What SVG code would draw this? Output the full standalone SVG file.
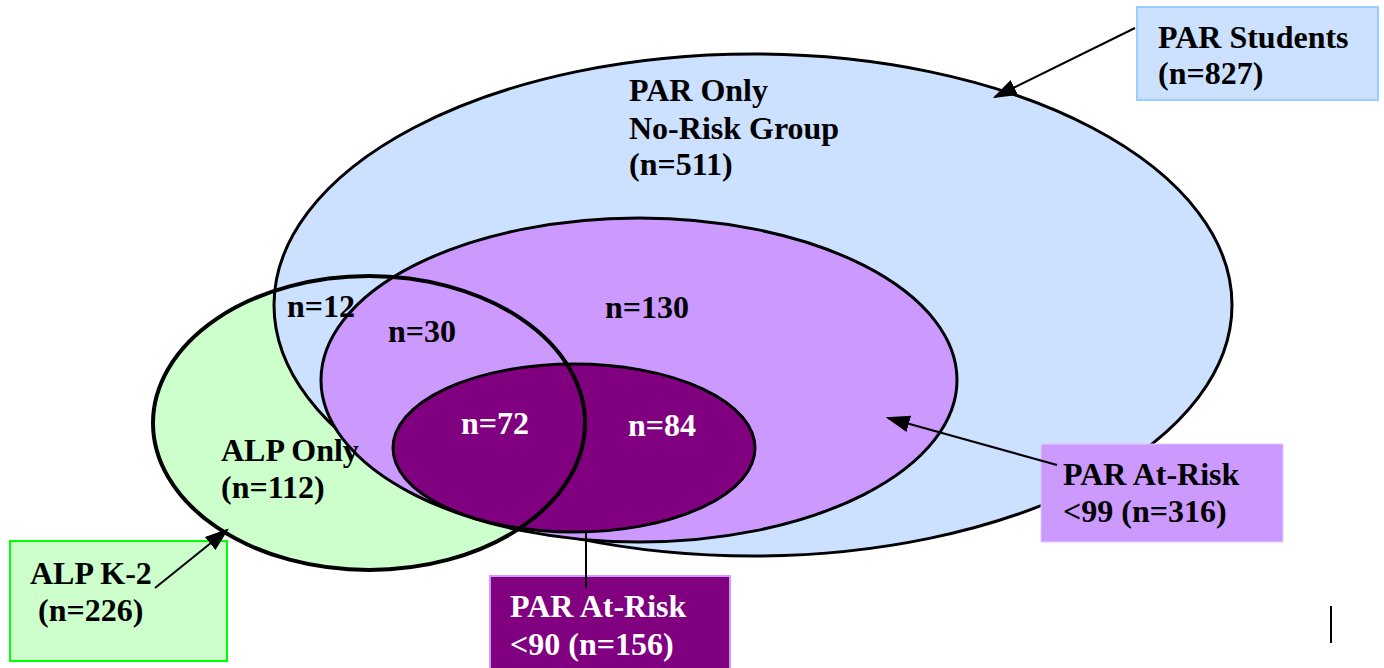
<svg xmlns="http://www.w3.org/2000/svg" width="1384" height="668" viewBox="0 0 1384 668">
<style>
text{font-family:"Liberation Serif","Times New Roman",serif;font-weight:bold;font-size:32px;fill:#000}
.w{fill:#fff}
.ell{stroke:#000;stroke-width:3}
.ln{stroke:#000;stroke-width:2;fill:none}
</style>
<defs>
<marker id="ah" viewBox="0 0 10 10" refX="9" refY="5" markerWidth="10" markerHeight="10" markerUnits="userSpaceOnUse" orient="auto">
<path d="M0,0 L10,5 L0,10 Z" fill="#000"/>
</marker>
<marker id="ah2" viewBox="0 0 10 10" refX="9" refY="5" markerWidth="24" markerHeight="24" markerUnits="userSpaceOnUse" orient="auto">
<path d="M0,1.5 L10,5 L0,8.5 Z" fill="#000"/>
</marker>
</defs>
<rect width="1384" height="668" fill="#fff"/>
<g id="alp-fill"><ellipse cx="369" cy="423" rx="216" ry="147" fill="#CCFFCC"/></g>
<g id="par-students-set"><ellipse class="ell" cx="753" cy="305" rx="479" ry="251" fill="#CCE0FF"/></g>
<g id="par-at-risk-99-set"><ellipse class="ell" cx="639" cy="380" rx="318" ry="162" fill="#CC99FF"/></g>
<g id="par-at-risk-90-set"><ellipse class="ell" cx="574" cy="448" rx="181" ry="84" fill="#800080"/></g>
<g id="alp-set"><ellipse cx="369" cy="423" rx="216" ry="147" fill="none" stroke="#000" stroke-width="4"/></g>
<g id="region-labels">
<text x="629" y="101">PAR Only</text>
<text x="629" y="139">No-Risk Group</text>
<text x="629" y="175">(n=511)</text>
<text x="287" y="317">n=12</text>
<text x="388" y="342">n=30</text>
<text x="605" y="318">n=130</text>
<text class="w" x="461" y="434">n=72</text>
<text class="w" x="628" y="436">n=84</text>
<text x="221" y="461">ALP Only</text>
<text x="221" y="498">(n=112)</text>
</g>
<g id="box-par-students">
<rect x="1137" y="7" width="241" height="93" fill="#CCE0FF" stroke="#99CCFF" stroke-width="2"/>
<text x="1158" y="48">PAR Students</text>
<text x="1158" y="84">(n=827)</text>
</g>
<g id="box-par-at-risk-99">
<rect x="1041" y="444" width="242" height="98" fill="#CC99FF" stroke="#E0C8FF" stroke-width="1"/>
<text x="1063" y="485">PAR At-Risk</text>
<text x="1063" y="522">&lt;99 (n=316)</text>
</g>
<g id="box-alp-k2">
<rect x="10" y="541" width="217" height="120" fill="#CCFFCC" stroke="#00FF00" stroke-width="2"/>
<text x="30" y="584">ALP K-2</text>
<text x="38" y="621">(n=226)</text>
</g>
<g id="box-par-at-risk-90">
<rect x="490" y="576" width="240" height="96" fill="#800080" stroke="#CC99FF" stroke-width="2"/>
<text class="w" x="510" y="617">PAR At-Risk</text>
<text class="w" x="510" y="655">&lt;90 (n=156)</text>
</g>
<g id="connectors">
<line class="ln" x1="1135" y1="28" x2="995" y2="97" marker-end="url(#ah2)"/>
<line class="ln" x1="1057" y1="465" x2="888" y2="418" marker-end="url(#ah2)"/>
<line class="ln" x1="155" y1="588" x2="227" y2="530" marker-end="url(#ah2)"/>
<line class="ln" x1="586" y1="532" x2="586" y2="588"/>
<line x1="1331" y1="606" x2="1331" y2="643" stroke="#000" stroke-width="2"/>
</g>
</svg>
